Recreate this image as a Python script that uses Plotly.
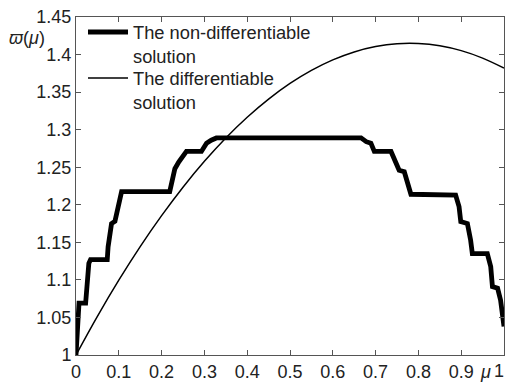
import plotly.graph_objects as go

# Non-differentiable solution (thick step-like curve)
nd_x = [0.0, 0.002, 0.005, 0.007, 0.0225, 0.026, 0.028, 0.030, 0.034, 0.073,
        0.075, 0.083, 0.091, 0.099, 0.1065, 0.219, 0.227, 0.231, 0.240, 0.250,
        0.258, 0.293, 0.305, 0.316, 0.328, 0.666, 0.678, 0.689, 0.697, 0.736,
        0.748, 0.755, 0.767, 0.775, 0.7825, 0.887, 0.895, 0.899, 0.9145, 0.922,
        0.926, 0.961, 0.969, 0.973, 0.985, 0.992, 0.996, 1.0]
nd_y = [1.0, 1.03, 1.058, 1.069, 1.069, 1.087, 1.100, 1.122, 1.127, 1.127,
        1.144, 1.175, 1.178, 1.197, 1.2175, 1.2175, 1.235, 1.248, 1.257, 1.264,
        1.271, 1.271, 1.282, 1.286, 1.289, 1.289, 1.284, 1.282, 1.271, 1.271,
        1.257, 1.246, 1.244, 1.226, 1.214, 1.213, 1.1975, 1.1775, 1.175, 1.153,
        1.135, 1.135, 1.1175, 1.091, 1.089, 1.073, 1.06, 1.038]

# Differentiable solution (thin smooth curve)
d_x = [0.0, 0.05, 0.1, 0.15, 0.2, 0.25, 0.3, 0.35, 0.4, 0.45, 0.5,
       0.55, 0.6, 0.65, 0.7, 0.75, 0.8, 0.85, 0.9, 0.95, 1.0]
d_y = [1.000, 1.0515, 1.0996, 1.1443, 1.1855, 1.2234, 1.2578, 1.2889, 1.3165,
       1.3407, 1.3615, 1.3789, 1.3929, 1.4035, 1.4106, 1.4144, 1.4147, 1.4117,
       1.4052, 1.3953, 1.382]

x_ticks = [0, 0.1, 0.2, 0.3, 0.4, 0.5, 0.6, 0.7, 0.8, 0.9, 1]
x_labels = ["0", "0.1", "0.2", "0.3", "0.4", "0.5", "0.6", "0.7", "0.8", "0.9", "1"]
y_ticks = [1, 1.05, 1.1, 1.15, 1.2, 1.25, 1.3, 1.35, 1.4, 1.45]
y_labels = ["1", "1.05", "1.1", "1.15", "1.2", "1.25", "1.3", "1.35", "1.4", "1.45"]

legend_names = ["The non-differentiable<br>solution", "The differentiable<br>solution"]

FONT = "Liberation Sans, Arial, sans-serif"

fig = go.Figure()
fig.add_trace(go.Scatter(x=nd_x, y=nd_y, mode="lines",
                         line=dict(color="black", width=4.8), showlegend=False))
fig.add_trace(go.Scatter(x=d_x, y=d_y, mode="lines", line_shape="spline",
                         line=dict(color="black", width=1.5), showlegend=False))

W, H = 506, 385
ml, mr, mt, mb = 76, 2, 17, 30
pw, ph = W - ml - mr, H - mt - mb

def px2paper(px, py):
    return (px - ml) / pw, (H - mb - py) / ph

# manual legend
for i, (name, lw, ly) in enumerate(zip(legend_names, [4.8, 1.5], [32, 78])):
    x0, y0 = px2paper(88, ly)
    x1, _ = px2paper(128, ly)
    fig.add_shape(type="line", xref="paper", yref="paper", x0=x0, x1=x1, y0=y0, y1=y0,
                  line=dict(color="black", width=lw))
    tx, ty = px2paper(131, ly - 12)
    fig.add_annotation(xref="paper", yref="paper", x=tx, y=ty, text=name,
                       showarrow=False, xanchor="left", yanchor="top", align="left",
                       font=dict(family=FONT, size=18.3, color="#222"))

# axis titles as annotations
ax, ay = px2paper(27, 38)
fig.add_annotation(xref="paper", yref="paper", x=ax, y=ay, text="<i>ϖ</i>(<i>μ</i>)",
                   showarrow=False, xanchor="center", yanchor="middle",
                   font=dict(family=FONT, size=18, color="#222"))
bx, by = px2paper(485, 372)
fig.add_annotation(xref="paper", yref="paper", x=bx, y=by, text="<i>μ</i>",
                   showarrow=False, xanchor="center", yanchor="middle",
                   font=dict(family=FONT, size=18, color="#222"))

# last x tick label (at the right edge)
lx, ly_ = px2paper(506, 359)
fig.add_annotation(xref="paper", yref="paper", x=lx, y=ly_, text=x_labels[-1],
                   showarrow=False, xanchor="right", yanchor="top",
                   font=dict(family=FONT, size=18, color="#222"))

axis_common = dict(showline=True, mirror="ticks", linecolor="#555", linewidth=1,
                   ticks="inside", ticklen=5, tickcolor="#555", showgrid=False,
                   zeroline=False, tickfont=dict(family=FONT, size=18, color="#222"))

fig.update_layout(
    width=W, height=H,
    margin=dict(l=ml, r=mr, t=mt, b=mb),
    plot_bgcolor="white", paper_bgcolor="white",
    xaxis=dict(range=[0, 1], tickvals=x_ticks, ticktext=x_labels, **axis_common),
    yaxis=dict(range=[1, 1.45], tickvals=y_ticks, ticktext=y_labels, **axis_common),
)

fig.write_html("out.html", config={"displayModeBar": False},
               post_script="document.body.style.margin='0';document.body.style.overflow='hidden';")
